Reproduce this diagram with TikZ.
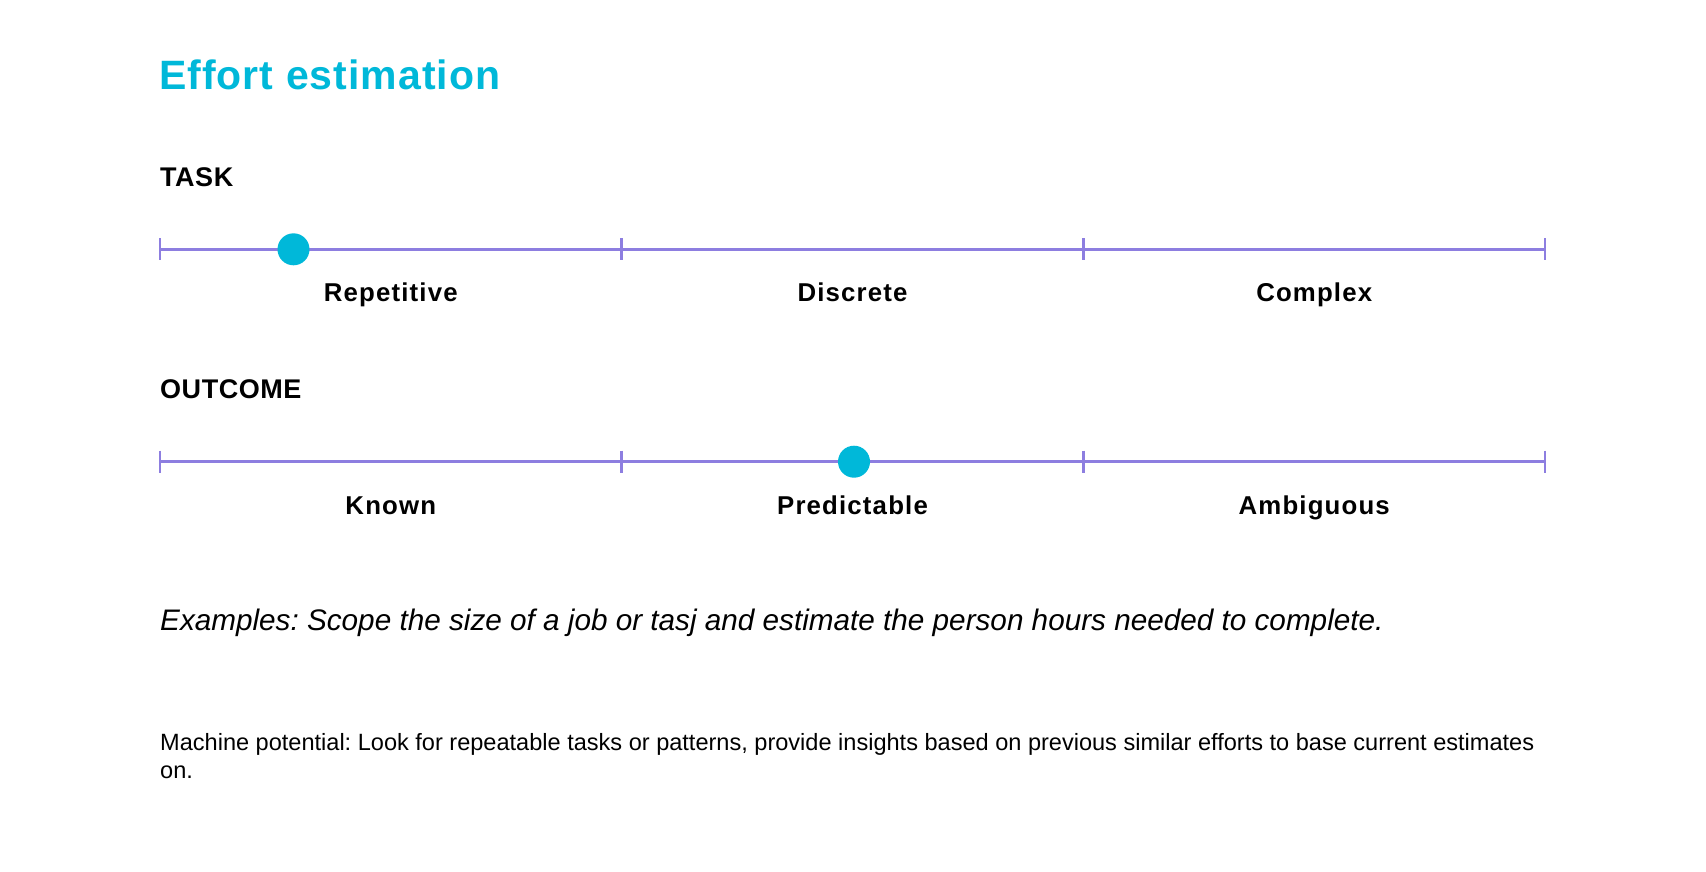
\documentclass[tikz,border=0pt]{standalone}
\usepackage{fontspec}
\setmainfont{Liberation Sans}
\newfontfamily\choicefont[LetterSpace=4.5]{Liberation Sans}
\newfontfamily\titlefont[LetterSpace=2.5]{Liberation Sans}
\newfontfamily\headingfont[LetterSpace=2]{Liberation Sans}
\definecolor{accentcyan}{RGB}{0,184,217}
\definecolor{scalepurple}{RGB}{141,126,224}
\frenchspacing
\begin{document}
\begin{tikzpicture}[x=1pt,y=-1pt,
  scaleline/.style={draw=scalepurple,line width=2.5pt},
  marker/.style={circle,fill=accentcyan,inner sep=0pt,minimum size=32pt},
  titletext/.style={anchor=base west,inner sep=0pt,text=accentcyan,font=\titlefont\fontsize{41}{41}\selectfont\bfseries},
  heading/.style={anchor=base west,inner sep=0pt,font=\headingfont\fontsize{27}{27}\selectfont\bfseries},
  choice/.style={anchor=base,inner sep=0pt,font=\choicefont\fontsize{25.8}{25.8}\selectfont\bfseries},
  example/.style={anchor=base west,inner sep=0pt,font=\fontsize{29.7}{29.7}\selectfont\itshape},
  note/.style={anchor=base west,inner sep=0pt,align=left,font=\fontsize{23.55}{28}\selectfont}]
\useasboundingbox (0,0) rectangle (1706,872);

\node[titletext] (title) at (159,90) {Effort estimation};

% TASK scale
\node[heading] (task) at (160,186) {TASK};
\coordinate (a0) at (160,249.3);
\coordinate (a1) at (621.7,249.3);
\coordinate (a2) at (1083.3,249.3);
\coordinate (a3) at (1545,249.3);
\draw[scaleline] (a0) -- (a3);
\foreach \p in {a0,a1,a2,a3} \draw[scaleline] (\p) ++(0,-11) -- ++(0,22);
\node[marker] (dot1) at (293.5,249.3) {};
\node[choice] (rep) at (390.8,301.7) {Repetitive};
\node[choice] (dis) at (852.5,301.7) {Discrete};
\node[choice] (com) at (1314.2,301.7) {Complex};

% OUTCOME scale
\node[heading] (outcome) at (160,398.3) {OUTCOME};
\coordinate (b0) at (160,461.7);
\coordinate (b1) at (621.7,461.7);
\coordinate (b2) at (1083.3,461.7);
\coordinate (b3) at (1545,461.7);
\draw[scaleline] (b0) -- (b3);
\foreach \p in {b0,b1,b2,b3} \draw[scaleline] (\p) ++(0,-11) -- ++(0,22);
\node[marker] (dot2) at (854,461.7) {};
\node[choice] (kno) at (390.8,514) {Known};
\node[choice] (pre) at (852.5,514) {Predictable};
\node[choice] (amb) at (1314.2,514) {Ambiguous};

\node[example] (examples) at (160,630) {Examples: Scope the size of a job or tasj and estimate the person hours needed to complete.};

\node[note] (machine) at (160,778.3) {Machine potential: Look for repeatable tasks or patterns, provide insights based on previous similar efforts to base current estimates\\on.};
\end{tikzpicture}
\end{document}
